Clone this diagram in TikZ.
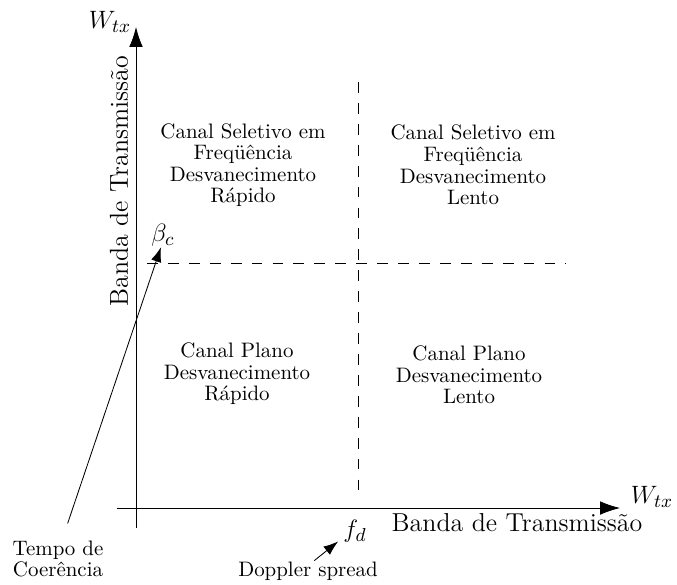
\documentclass[tikz,border=0pt]{standalone}
\usepackage{fontspec}
\usetikzlibrary{arrows.meta,positioning}

\begin{document}
\begin{tikzpicture}[x=0.478pt,y=-0.478pt,
  axis/.style={-{Latex[length=9.5pt,width=6.5pt]}},
  limit/.style={dash pattern=on 5.2pt off 4.8pt},
  pointer/.style={-{Latex[length=7pt,width=5pt]}},
  region/.style={align=center,font=\fontsize{10}{10.3}\selectfont},
  big/.style={font=\fontsize{12.4}{15}\selectfont}]
\useasboundingbox (0,0) rectangle (677,584);

% axes
\coordinate (xstart) at (117,508);
\coordinate (xend) at (620,508);
\coordinate (ystart) at (136,528);
\coordinate (yend) at (136,27);
\draw[axis] (xstart) -- (xend);
\draw[axis] (ystart) -- (yend);
\node[big] (wy) at (110,22) {$W_{tx}$};
\node[big] (wx) at (652,497) {$W_{tx}$};
\node[big,rotate=90] (bandy) at (119,181) {Banda de Transmissão};
\node[big] (bandx) at (517,523) {Banda de Transmissão};

% limits
\coordinate (fdtop) at (358,82);
\coordinate (fdbottom) at (358,498);
\coordinate (bcleft) at (147,263);
\coordinate (bcright) at (566,263);
\draw[limit] (fdtop) -- (fdbottom);
\draw[limit] (bcleft) -- (bcright);

% regions
\node[region] (fastsel) at (243,165) {Canal Seletivo em\\Freqüência\\Desvanecimento\\Rápido};
\node[region] (slowsel) at (473,165) {Canal Seletivo em\\Freqüência\\Desvanecimento\\Lento};
\node[region] (fastflat) at (237,374) {Canal Plano\\Desvanecimento\\Rápido};
\node[region] (slowflat) at (469,375) {Canal Plano\\Desvanecimento\\Lento};

% marks
\node[big] (bc) at (163,235) {$\beta_c$};
\node[big] (fd) at (355,531) {$f_d$};
\node[region] (coherence) at (58,559) {Tempo de\\Coerência};
\node[region] (doppler) at (308,571) {Doppler spread};
\draw[pointer,shorten <=5pt] ([xshift=3pt]coherence.north) -- ([xshift=-1pt,yshift=3pt]bc.south);
\draw[pointer] ([xshift=3pt,yshift=-3pt]doppler.north) -- ([xshift=1pt,yshift=-5pt]fd.west);

\end{tikzpicture}
\end{document}
